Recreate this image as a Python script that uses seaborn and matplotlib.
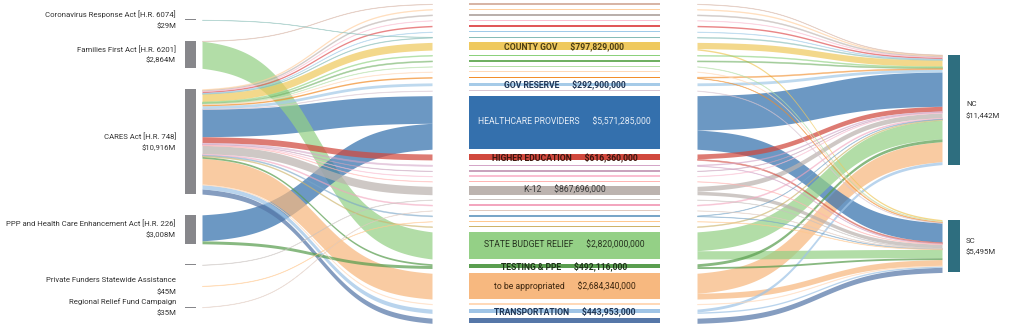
import numpy as np
import matplotlib
matplotlib.use("Agg")
import matplotlib.pyplot as plt
import seaborn as sns
from matplotlib import font_manager

sns.set_theme(style="white")
avail = {f.name for f in font_manager.fontManager.ttflist}
FONT = "Roboto" if "Roboto" in avail else "Liberation Sans"
plt.rcParams["font.family"] = [FONT, "DejaVu Sans"]

# ---------------- data ----------------
source_keys = ["CRA", "FF", "CARES", "PPP", "OTHER", "PRIV", "REG"]
source_labels = ["Coronavirus Response Act [H.R. 6074]", "Families First Act [H.R. 6201]",
                 "CARES Act [H.R. 748]", "PPP and Health Care Enhancement Act [H.R. 226]",
                 "", "Private Funders Statewide Assistance", "Regional Relief Fund Campaign"]

cat_keys = ["m01", "m02", "m03", "m04", "m05", "m06", "m07", "county", "m08", "m09", "m10",
            "m11", "m12", "reserve", "m13", "health", "higher", "m14", "m15", "m16", "m17",
            "k12", "m18", "m19", "m20", "m21", "m22", "m23", "budget", "testing", "tba",
            "m24", "transport", "m25"]
cat_labels = {"county": "COUNTY GOV", "reserve": "GOV RESERVE", "health": "HEALTHCARE PROVIDERS",
              "higher": "HIGHER EDUCATION", "k12": "K-12", "budget": "STATE BUDGET RELIEF",
              "testing": "TESTING & PPE", "tba": "to be appropriated", "transport": "TRANSPORTATION"}

state_keys = ["NC", "SC"]

# source -> category links (millions)
left_src = ["FF", "CARES", "CARES", "CARES", "CARES", "CARES", "CRA", "CARES", "CARES", "CARES",
            "CARES", "CARES", "CARES", "CARES", "CARES", "CARES", "CARES", "PPP", "CARES", "CARES",
            "CARES", "CARES", "CARES", "CARES", "OTHER", "CARES", "REG", "CARES", "PRIV", "CARES",
            "FF", "CARES", "PPP", "CARES", "CARES", "CARES", "CARES"]
left_cat = ["m01", "m02", "m03", "m04", "m05", "m06", "m07", "m07", "county", "m08",
            "m09", "m10", "m11", "m12", "reserve", "m13", "health", "health", "higher", "m14",
            "m15", "m16", "m17", "k12", "m18", "m19", "m20", "m21", "m22", "m23",
            "budget", "testing", "testing", "tba", "m24", "transport", "m25"]
left_val = [44, 80, 100, 50, 150, 50, 29, 61, 797.829, 90,
            110, 50, 50, 150, 292.9, 50, 2871.285, 2700, 616.36, 130,
            50, 50, 50, 867.696, 40, 100, 35, 100, 45, 90,
            2820, 184.116, 308, 2684.34, 60, 443.953, 536.521]

# category -> state links (millions)
right_cat = ["m01", "m02", "m03", "m04", "m05", "m06", "m07", "county", "county", "m08",
             "m09", "m10", "m11", "m12", "m12", "reserve", "m13", "health", "health", "higher",
             "higher", "m14", "m14", "m15", "m16", "m17", "k12", "k12", "m18", "m19",
             "m20", "m21", "m21", "m22", "m23", "budget", "budget", "testing", "testing", "tba",
             "tba", "m24", "transport", "transport", "m25"]
right_state = ["NC", "NC", "NC", "NC", "NC", "NC", "NC", "NC", "SC", "NC",
               "NC", "SC", "SC", "NC", "SC", "NC", "SC", "NC", "SC", "NC",
               "SC", "NC", "SC", "NC", "NC", "SC", "NC", "SC", "SC", "NC",
               "SC", "NC", "SC", "SC", "NC", "NC", "SC", "NC", "SC", "NC",
               "SC", "SC", "NC", "SC", "SC"]
right_val = [44, 80, 100, 50, 150, 50, 90, 650, 147.829, 90,
             110, 50, 50, 100, 50, 292.9, 50, 3570.76, 2000.525, 500,
             116.36, 80, 50, 50, 50, 50, 500, 367.696, 40, 100,
             35, 50, 50, 45, 90, 1960, 860, 300, 192.116, 2084.34,
             600, 60, 300, 143.953, 536.521]

# ---------------- styles ----------------
cat_colors = {"m01": "#d7b5a6", "m02": "#ffcf9e", "m03": "#bab0ac", "m04": "#fabfd2",
              "m05": "#e15759", "m06": "#a0cbe8", "m07": "#86bcb6", "county": "#efc95e",
              "m08": "#8cd17d", "m09": "#6fb062", "m10": "#b5e0a8", "m11": "#ffd9b8",
              "m12": "#f28e2b", "reserve": "#a6cbe8", "m13": "#d9c6d2", "health": "#3470ad",
              "higher": "#d1483d", "m14": "#d4a6c8", "m15": "#c9a3bd", "m16": "#fabfd2",
              "m17": "#ffb5b3", "k12": "#bcb3af", "m18": "#c9c2bf", "m19": "#f3a6bf",
              "m20": "#e0cabf", "m21": "#79a6c8", "m22": "#ffc98f", "m23": "#cdb46a",
              "budget": "#94d086", "testing": "#5a9e50", "tba": "#f7b87f", "m24": "#ffd9b8",
              "transport": "#9fc4e6", "m25": "#5677a8"}
label_style = {"county": ("#4d3f14", "bold"), "reserve": ("#1f3656", "bold"),
               "health": ("#e6edf6", "normal"), "higher": ("#3a150e", "bold"),
               "k12": ("#3a3a3a", "normal"), "budget": ("#26331f", "normal"),
               "testing": ("#1e3319", "bold"), "tba": ("#3f2810", "normal"),
               "transport": ("#1f3656", "bold")}

SCALE = 1 / 104.0          # px per million
CENTER = 163.5
GAP_L, GAP_M, GAP_R = 20.8, 4.75, 55.0
X_SRC = (185, 196)
X_LFLOW = (202, 432)
X_MID = (469, 660)
X_RFLOW = (697, 942)
X_ST = (948, 960)
SRC_COLOR = "#87878b"
ST_COLOR = "#2e6e7f"
TXT = "#333333"
LEFT_LABEL_W = 170.0   # px width of the widest left label
MID_LABEL_W = 172.0    # px width of the healthcare label

# ---------------- layout ----------------
def totals(keys, link_keys, vals):
    return np.array([sum(v for k, v in zip(link_keys, vals) if k == key) for key in keys])

src_tot = totals(source_keys, left_src, left_val)
cat_tot = totals(cat_keys, left_cat, left_val)
st_tot = totals(state_keys, right_state, right_val)

def stack(tot, gap):
    h = tot * SCALE
    total = h.sum() + gap * (len(h) - 1)
    tops = CENTER - total / 2 + np.concatenate([[0], np.cumsum(h[:-1] + gap)])
    return tops, h

src_top, src_h = stack(src_tot, GAP_L)
cat_top, cat_h = stack(cat_tot, GAP_M)
st_top, st_h = stack(st_tot, GAP_R)

s_idx = {k: i for i, k in enumerate(source_keys)}
c_idx = {k: i for i, k in enumerate(cat_keys)}
t_idx = {k: i for i, k in enumerate(state_keys)}

def link_positions(a_keys, b_keys, vals, a_idx, b_idx, a_top, b_top):
    n = len(vals)
    ya = np.zeros(n); yb = np.zeros(n)
    off = dict()
    for i in sorted(range(n), key=lambda i: (a_idx[a_keys[i]], b_idx[b_keys[i]])):
        a = a_idx[a_keys[i]]
        ya[i] = a_top[a] + off.get(a, 0.0)
        off[a] = off.get(a, 0.0) + vals[i] * SCALE
    off = dict()
    for i in sorted(range(n), key=lambda i: (b_idx[b_keys[i]], a_idx[a_keys[i]])):
        b = b_idx[b_keys[i]]
        yb[i] = b_top[b] + off.get(b, 0.0)
        off[b] = off.get(b, 0.0) + vals[i] * SCALE
    return ya, yb

l_ya, l_yb = link_positions(left_src, left_cat, left_val, s_idx, c_idx, src_top, cat_top)
r_ya, r_yb = link_positions(right_cat, right_state, right_val, c_idx, t_idx, cat_top, st_top)

# ---------------- drawing ----------------
fig = plt.figure(figsize=(10.24, 3.36), dpi=100)
ax = fig.add_axes([0, 0, 1, 1])
ax.set_xlim(0, 1024)
ax.set_ylim(336, 0)
ax.axis("off")
renderer = fig.canvas.get_renderer()

def fit_size(text, target, weight="normal", base=10.0):
    tt = ax.text(0, 0, text, fontsize=base, fontweight=weight)
    w = tt.get_window_extent(renderer=renderer).width
    tt.remove()
    return base * target / w

t = np.linspace(0, 1, 120)
sig = 1 / (1 + np.exp(-8 * (t - 0.5)))
sig = (sig - sig[0]) / (sig[-1] - sig[0])

def band(xr, y0, y1, h, color):
    x = xr[0] + (xr[1] - xr[0]) * t
    top = y0 + (y1 - y0) * sig
    thin = h < 1.3
    ax.fill_between(x, top, top + h, facecolor=color, alpha=0.5 if thin else 0.72,
                    edgecolor=color, linewidth=0.45 if thin else 0.0)

for i in sorted(range(len(left_val)), key=lambda i: -left_val[i]):
    band(X_LFLOW, l_ya[i], l_yb[i], left_val[i] * SCALE, cat_colors[left_cat[i]])
for i in sorted(range(len(right_val)), key=lambda i: -right_val[i]):
    band(X_RFLOW, r_ya[i], r_yb[i], right_val[i] * SCALE, cat_colors[right_cat[i]])

def node_bars(xr, tops, hs, colors, min_h):
    hd = np.maximum(hs, min_h)
    bottoms = tops + hs / 2 - hd / 2
    ax.bar([(xr[0] + xr[1]) / 2] * len(hs), hd, bottom=bottoms, width=xr[1] - xr[0],
           color=colors, linewidth=0)

node_bars(X_SRC, src_top, src_h, [SRC_COLOR] * len(src_h), 0.8)
node_bars(X_MID, cat_top, cat_h, [cat_colors[k] for k in cat_keys], 1.3)
node_bars(X_ST, st_top, st_h, [ST_COLOR] * len(st_h), 1.0)

FS = fit_size(max(source_labels, key=len), LEFT_LABEL_W)
for i, lab in enumerate(source_labels):
    if not lab:
        continue
    yc = src_top[i] + src_h[i] / 2
    ax.text(176, yc - 5.5, lab, ha="right", va="center", fontsize=FS, color=TXT)
    ax.text(176, yc + 5.8, f"${src_tot[i]:,.0f}M", ha="right", va="center", fontsize=FS, color=TXT)

SEP = "      "
h_i = cat_keys.index("health")
FM = fit_size(cat_labels["health"] + SEP + f"${round(cat_tot[h_i] * 1e6):,}", MID_LABEL_W)
xm = (X_MID[0] + X_MID[1]) / 2
for i, k in enumerate(cat_keys):
    if k not in cat_labels:
        continue
    col, wt = label_style[k]
    amount = f"${round(cat_tot[i] * 1e6):,}"
    ax.text(xm, cat_top[i] + cat_h[i] / 2, cat_labels[k] + SEP + amount,
            ha="center", va="center", fontsize=FM, color=col, fontweight=wt)

for i, k in enumerate(state_keys):
    yc = st_top[i] + st_h[i] / 2
    ax.text(966, yc - 5.5, k, ha="left", va="center", fontsize=FS, color=TXT)
    ax.text(966, yc + 5.8, f"${st_tot[i]:,.0f}M", ha="left", va="center", fontsize=FS, color=TXT)

fig.savefig("out.png", dpi=100, facecolor="white")
